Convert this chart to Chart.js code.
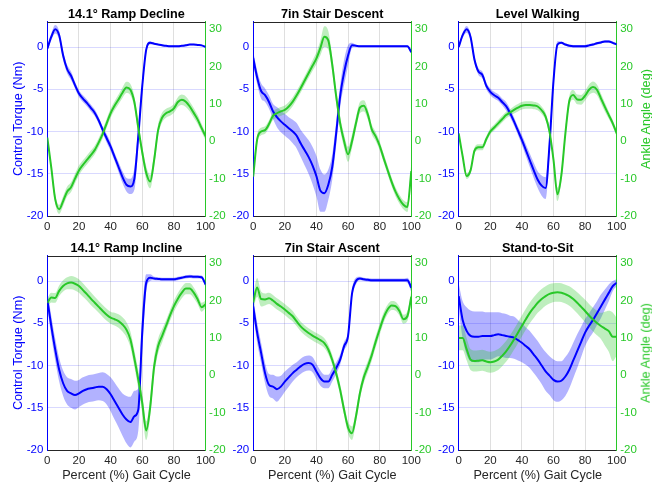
<!DOCTYPE html>
<html>
<head>
<meta charset="utf-8">
<script src="https://cdn.jsdelivr.net/npm/chart.js"></script>
<style>
  body { margin: 0; background: #fff; }
  #fig { position: relative; width: 652px; height: 482px; overflow: hidden;
         font-family: "Liberation Sans", Arial, sans-serif; }
  #fig canvas { position: absolute; left: 0; top: 0; }
  .ttl { position: absolute; font-weight: bold; font-size: 12.65px; line-height: 12.65px;
         white-space: nowrap; transform: translateX(-50%); color: #000; }
  .ylab2 { position: absolute; font-size: 12.65px; line-height: 12.65px; white-space: nowrap;
           color: rgb(40,200,40); transform: translate(-50%, -50%) rotate(-90deg); }
</style>
</head>
<body>
<div id="fig"></div>
<script>
// Eje x (porcentaje del ciclo) y marcas
const pct = [0, 2.5, 5, 7.5, 10, 12.5, 15, 17.5, 20, 22.5, 25, 27.5, 30, 32.5, 35, 37.5, 40,
  42.5, 45, 47.5, 50, 52.5, 55, 57.5, 60, 62.5, 65, 67.5, 70, 72.5, 75, 77.5, 80, 82.5, 85,
  87.5, 90, 92.5, 95, 97.5, 100];
const xTicks = [0, 20, 40, 60, 80, 100];
const torqueTicks = [-20, -15, -10, -5, 0];
const angleTicks = [-20, -10, 0, 10, 20, 30];
const titles = ["14.1° Ramp Decline", "7in Stair Descent", "Level Walking",
  "14.1° Ramp Incline", "7in Stair Ascent", "Stand-to-Sit"];

// 14.1° Ramp Decline
const rdTorque = [-0.2, 1.2, 2.1, 1.4, -1.0, -2.6, -3.4, -4.5, -5.5, -6.1, -6.6, -7.2, -7.8, -8.7, -9.8, -10.8, -11.8, -13.0, -14.2, -15.4, -16.3, -16.5, -15.6, -10.5, -4.6, -0.3, 0.5, 0.4, 0.3, 0.2, 0.15, 0.1, 0.1, 0.1, 0.15, 0.2, 0.3, 0.3, 0.25, 0.2, 0.0];
const rdTorqueSd = [0.3, 0.4, 0.5, 0.5, 0.5, 0.5, 0.5, 0.4, 0.4, 0.4, 0.4, 0.4, 0.4, 0.4, 0.4, 0.5, 0.5, 0.5, 0.6, 0.7, 0.8, 0.9, 1.3, 1.2, 0.8, 0.4, 0.2, 0.1, 0.1, 0.1, 0.1, 0.1, 0.1, 0.1, 0.1, 0.1, 0.1, 0.1, 0.1, 0.1, 0.1];
const rdAngle = [1.0, -7.0, -15.5, -18.2, -16.0, -13.5, -12.3, -10.0, -7.8, -6.3, -5.0, -3.7, -2.3, -0.3, 2.0, 4.8, 7.5, 9.5, 11.2, 13.0, 14.4, 13.8, 10.5, 3.5, -3.0, -8.5, -10.8, -5.0, 3.0, 6.3, 7.5, 8.0, 8.8, 10.5, 11.1, 10.6, 9.3, 7.6, 5.8, 3.5, 1.3];
const rdAngleSd = [0.8, 1.0, 1.2, 1.2, 1.3, 1.3, 1.3, 1.3, 1.3, 1.2, 1.2, 1.2, 1.2, 1.2, 1.2, 1.2, 1.2, 1.2, 1.3, 1.4, 1.5, 1.5, 1.5, 1.5, 1.5, 1.8, 1.8, 1.8, 1.5, 1.3, 1.2, 1.2, 1.2, 1.3, 1.4, 1.4, 1.3, 1.3, 1.2, 1.1, 1.0];

// 7in Stair Descent
const sdTorque = [-1.3, -3.6, -5.2, -5.7, -6.5, -7.6, -8.3, -8.8, -9.2, -9.6, -10.0, -10.5, -11.4, -12.2, -13.0, -14.0, -15.3, -17.0, -17.3, -16.3, -14.2, -10.2, -5.8, -3.0, -1.0, 0.2, 0.15, 0.1, 0.1, 0.1, 0.1, 0.1, 0.1, 0.1, 0.1, 0.1, 0.1, 0.1, 0.1, 0.1, -0.6];
const sdTorqueSd = [0.8, 0.8, 0.9, 0.8, 0.8, 0.9, 1.2, 1.3, 1.3, 1.3, 1.4, 1.5, 1.6, 1.8, 2.0, 2.2, 2.4, 2.5, 2.2, 1.8, 1.5, 1.4, 1.3, 1.5, 1.2, 0.3, 0.1, 0.1, 0.1, 0.1, 0.1, 0.1, 0.1, 0.1, 0.1, 0.1, 0.1, 0.1, 0.1, 0.1, 0.2];
const sdAngle = [-9.5, 0.5, 2.6, 3.0, 4.6, 6.8, 7.5, 8.0, 8.4, 9.3, 10.6, 12.3, 14.2, 16.2, 18.2, 20.2, 22.2, 25.0, 28.0, 27.0, 20.5, 12.0, 4.8, 0.0, -3.5, 0.0, 4.8, 9.0, 9.5, 7.2, 3.2, 1.3, -1.2, -4.5, -7.7, -10.8, -13.5, -15.5, -17.0, -17.6, -8.0];
const sdAngleSd = [2.0, 1.2, 1.0, 1.0, 1.0, 1.1, 1.2, 1.2, 1.2, 1.2, 1.2, 1.2, 1.2, 1.2, 1.3, 1.4, 1.6, 2.0, 2.8, 2.5, 2.0, 1.8, 1.8, 1.8, 2.0, 1.8, 1.6, 1.5, 1.5, 1.4, 1.3, 1.2, 1.2, 1.2, 1.2, 1.2, 1.2, 1.2, 1.2, 1.3, 2.0];

// Level Walking
const lwTorque = [0.0, 1.4, 2.1, 1.2, -1.5, -2.9, -3.3, -4.6, -5.3, -5.7, -6.0, -6.5, -7.0, -7.8, -8.8, -9.9, -11.0, -12.2, -13.4, -14.6, -15.7, -16.4, -16.7, -11.5, -4.0, 0.3, 0.5, 0.3, 0.15, 0.1, 0.1, 0.1, 0.1, 0.2, 0.3, 0.45, 0.55, 0.65, 0.65, 0.5, 0.3];
const lwTorqueSd = [0.2, 0.3, 0.4, 0.4, 0.4, 0.4, 0.4, 0.4, 0.4, 0.4, 0.4, 0.4, 0.5, 0.5, 0.5, 0.5, 0.6, 0.7, 0.8, 0.9, 1.0, 1.2, 1.3, 1.2, 0.8, 0.4, 0.15, 0.15, 0.15, 0.15, 0.15, 0.15, 0.15, 0.15, 0.15, 0.15, 0.15, 0.15, 0.15, 0.15, 0.15];
const lwAngle = [2.1, -4.0, -9.3, -7.8, -2.5, -1.6, -1.6, 0.6, 2.6, 3.7, 4.8, 5.9, 7.0, 7.7, 8.4, 9.0, 9.5, 9.7, 9.7, 9.6, 9.3, 8.3, 6.6, 2.5, -5.0, -14.2, -9.0, 2.0, 10.8, 12.4, 11.2, 11.1, 12.2, 13.8, 14.5, 13.8, 11.5, 9.2, 7.0, 4.8, 2.1];
const lwAngleSd = [0.6, 0.7, 0.8, 0.8, 0.8, 0.8, 0.8, 0.8, 0.8, 0.8, 0.9, 0.9, 0.9, 0.9, 1.0, 1.0, 1.0, 1.0, 1.0, 1.0, 1.0, 1.0, 1.0, 1.1, 1.2, 1.8, 1.5, 1.4, 1.3, 1.3, 1.3, 1.3, 1.3, 1.4, 1.5, 1.4, 1.3, 1.2, 1.0, 0.9, 0.8];

// 14.1° Ramp Incline
const riTorque = [-2.2, -5.3, -8.1, -10.5, -12.1, -13.0, -13.3, -13.5, -13.3, -13.0, -12.8, -12.7, -12.6, -12.5, -12.5, -12.8, -13.4, -14.2, -15.0, -15.8, -16.4, -16.7, -16.0, -15.2, -6.0, -0.2, 0.4, 0.3, 0.25, 0.2, 0.2, 0.2, 0.2, 0.3, 0.4, 0.5, 0.55, 0.5, 0.5, 0.45, -0.4];
const riTorqueSd = [1.0, 1.2, 1.3, 1.4, 1.5, 1.6, 1.7, 1.7, 1.6, 1.6, 1.6, 1.6, 1.6, 1.6, 1.7, 1.8, 2.0, 2.2, 2.3, 2.5, 2.8, 3.0, 3.0, 2.5, 2.5, 1.0, 0.4, 0.2, 0.2, 0.2, 0.2, 0.2, 0.2, 0.2, 0.2, 0.2, 0.2, 0.2, 0.2, 0.2, 0.3];
const riAngle = [19.4, 20.8, 20.7, 22.6, 23.9, 24.6, 24.8, 24.5, 23.9, 22.8, 21.7, 20.5, 19.4, 18.3, 17.2, 16.2, 15.4, 15.0, 14.5, 13.6, 12.2, 9.6, 4.5, -1.2, -7.5, -14.8, -8.5, 2.4, 7.8, 10.5, 13.2, 16.0, 18.5, 20.5, 22.1, 23.2, 23.2, 22.1, 20.3, 18.2, 19.0];
const riAngleSd = [1.2, 1.3, 1.3, 1.4, 1.5, 1.6, 1.8, 1.8, 1.8, 1.8, 1.7, 1.7, 1.6, 1.6, 1.6, 1.6, 1.6, 1.7, 1.8, 1.9, 2.0, 2.1, 2.2, 2.5, 2.8, 2.5, 2.5, 2.5, 2.0, 1.8, 1.5, 1.5, 1.5, 1.5, 1.5, 1.5, 1.5, 1.4, 1.3, 1.2, 1.0];

// 7in Stair Ascent
const saTorque = [-3.0, -6.1, -8.5, -10.9, -12.3, -12.5, -12.8, -12.5, -11.9, -11.4, -10.9, -10.5, -10.1, -9.8, -9.7, -9.9, -10.7, -11.5, -11.9, -11.9, -11.1, -10.3, -9.3, -7.7, -6.5, -1.5, 0.0, 0.3, 0.2, 0.15, 0.1, 0.1, 0.1, 0.1, 0.1, 0.1, 0.1, 0.1, 0.1, 0.1, -0.8];
const saTorqueSd = [1.0, 1.2, 1.2, 1.2, 1.3, 1.4, 1.5, 1.3, 1.2, 1.1, 1.0, 0.9, 0.9, 0.9, 0.9, 0.9, 0.9, 0.9, 0.8, 0.8, 0.8, 0.7, 0.6, 0.5, 0.5, 0.5, 0.4, 0.2, 0.2, 0.2, 0.2, 0.2, 0.2, 0.2, 0.2, 0.2, 0.2, 0.2, 0.2, 0.3, 0.5];
const saAngle = [19.5, 23.5, 20.4, 20.3, 20.6, 20.0, 19.1, 18.4, 17.6, 16.7, 15.8, 14.4, 13.1, 12.1, 11.3, 10.6, 10.0, 9.4, 8.6, 6.9, 4.1, 0.5, -3.9, -9.3, -14.0, -15.5, -11.0, -4.8, -0.5, 2.3, 5.4, 9.0, 12.3, 15.4, 17.6, 18.7, 18.5, 17.2, 15.0, 15.8, 21.0];
const saAngleSd = [2.0, 2.5, 2.0, 1.6, 1.5, 1.5, 1.5, 1.5, 1.5, 1.5, 1.4, 1.3, 1.3, 1.3, 1.3, 1.3, 1.3, 1.3, 1.3, 1.3, 1.3, 1.4, 1.5, 1.5, 1.6, 1.8, 1.6, 1.5, 1.5, 1.5, 1.5, 1.5, 1.5, 1.4, 1.3, 1.2, 1.2, 1.2, 1.2, 1.3, 1.5];

// Stand-to-Sit
const ssTorque = [-1.8, -4.6, -5.9, -6.5, -6.6, -6.6, -6.5, -6.5, -6.5, -6.4, -6.3, -6.4, -6.5, -6.6, -6.7, -7.0, -7.3, -7.7, -8.1, -8.7, -9.3, -10.0, -10.7, -11.2, -11.7, -11.9, -11.8, -11.3, -10.5, -9.4, -8.3, -7.2, -6.1, -5.3, -4.6, -3.8, -3.0, -2.2, -1.4, -0.6, -0.2];
const ssTorqueSd = [1.5, 2.2, 2.8, 3.0, 3.0, 3.0, 2.9, 2.8, 2.8, 2.7, 2.6, 2.6, 2.6, 2.5, 2.5, 2.4, 2.3, 2.2, 2.2, 2.2, 2.2, 2.2, 2.3, 2.3, 2.4, 2.4, 2.3, 2.3, 2.2, 2.1, 2.0, 1.8, 1.6, 1.5, 1.5, 1.4, 1.4, 1.2, 1.0, 0.6, 0.4];
const ssAngle = [10.0, 10.0, 7.0, 4.2, 3.8, 3.9, 4.0, 3.7, 3.5, 3.7, 4.2, 5.2, 6.4, 7.9, 9.6, 11.4, 13.2, 15.0, 16.7, 18.1, 19.4, 20.4, 21.2, 21.8, 22.1, 22.2, 22.1, 21.7, 21.2, 20.4, 19.4, 18.3, 17.2, 16.0, 14.9, 14.0, 13.2, 12.5, 11.8, 10.3, 10.3];
const ssAngleSd = [3.3, 3.3, 3.0, 2.8, 2.8, 2.8, 2.8, 2.8, 2.8, 2.8, 2.8, 2.8, 2.8, 2.8, 2.8, 2.8, 2.8, 2.8, 2.8, 2.8, 2.7, 2.7, 2.6, 2.6, 2.5, 2.5, 2.5, 2.5, 2.6, 2.7, 2.8, 2.9, 3.0, 3.1, 3.2, 3.3, 3.5, 4.5, 5.5, 6.5, 5.0];

// Colores
const BLUE = "rgb(0,0,255)";
const BLUE_BAND = "rgba(0,0,255,0.3)";
const GREEN = "rgb(40,200,40)";
const GREEN_BAND = "rgba(40,200,40,0.3)";
const AXIS = "#262626";

// Posición de cada área de gráfico (px)
const boxes = [
  { l: 47.3, r: 205.6, t: 21.7, b: 216, ylab: true, ylab2: false, xlab: false },
  { l: 253.2, r: 411.3, t: 21.7, b: 216, ylab: false, ylab2: false, xlab: false },
  { l: 458.7, r: 616.7, t: 21.7, b: 216, ylab: false, ylab2: true, xlab: false },
  { l: 47.3, r: 205.6, t: 255.7, b: 450, ylab: true, ylab2: false, xlab: true },
  { l: 253.2, r: 411.3, t: 255.7, b: 450, ylab: false, ylab2: false, xlab: true },
  { l: 458.7, r: 616.7, t: 255.7, b: 450, ylab: false, ylab2: true, xlab: true },
];

const series = [
  [rdTorque, rdTorqueSd, rdAngle, rdAngleSd],
  [sdTorque, sdTorqueSd, sdAngle, sdAngleSd],
  [lwTorque, lwTorqueSd, lwAngle, lwAngleSd],
  [riTorque, riTorqueSd, riAngle, riAngleSd],
  [saTorque, saTorqueSd, saAngle, saAngleSd],
  [ssTorque, ssTorqueSd, ssAngle, ssAngleSd],
];

Chart.defaults.font.family = '"Liberation Sans", Arial, sans-serif';
Chart.defaults.font.size = 11.5;

const pts = (ys) => ys.map((y, k) => ({ x: pct[k], y }));
const bound = (m, s, sign) => m.map((v, k) => ({ x: pct[k], y: v + sign * s[k] }));

// Borde superior de cada eje
const topLine = {
  id: "topLine",
  afterDraw(chart) {
    const { ctx, chartArea: a } = chart;
    const y = Math.round(a.top) + 0.5;
    ctx.save();
    ctx.strokeStyle = AXIS;
    ctx.lineWidth = 1;
    ctx.beginPath();
    ctx.moveTo(a.left, y);
    ctx.lineTo(a.right, y);
    ctx.stroke();
    ctx.restore();
  },
};

const fig = document.querySelector("#fig");

const bandSet = (data, color, axis, fill, order) => ({
  data, yAxisID: axis, fill, backgroundColor: color, borderWidth: 0,
  pointRadius: 0, cubicInterpolationMode: "monotone", order,
});
const lineSet = (data, color, axis, width, order) => ({
  data, yAxisID: axis, fill: false, borderColor: color, borderWidth: width,
  pointRadius: 0, cubicInterpolationMode: "monotone", order,
});

boxes.forEach((box, i) => {
  const [torque, torqueSd, angle, angleSd] = series[i];
  const lw = box.ylab ? 35.3 : 30;
  const rw = 30;
  const xh = box.xlab ? 32 : 20;

  const canvas = document.createElement("canvas");
  canvas.width = 652;
  canvas.height = 482;
  fig.appendChild(canvas);

  new Chart(canvas, {
    type: "line",
    data: {
      datasets: [
        bandSet(bound(torque, torqueSd, 1), BLUE_BAND, "y", "+1", 4),
        bandSet(bound(torque, torqueSd, -1), BLUE_BAND, "y", false, 4),
        bandSet(bound(angle, angleSd, 1), GREEN_BAND, "y2", "+1", 3),
        bandSet(bound(angle, angleSd, -1), GREEN_BAND, "y2", false, 3),
        lineSet(pts(torque), BLUE, "y", 2, 2),
        lineSet(pts(angle), GREEN, "y2", 2, 1),
      ],
    },
    options: {
      responsive: false,
      animation: false,
      devicePixelRatio: 1,
      events: [],
      layout: {
        padding: { left: box.l - lw, right: 652 - box.r - rw, top: box.t, bottom: 482 - box.b - xh },
      },
      plugins: { legend: { display: false }, tooltip: { enabled: false }, title: { display: false } },
      scales: {
        x: {
          type: "linear", min: 0, max: 100,
          afterBuildTicks: (s) => { s.ticks = xTicks.map((v) => ({ value: v })); },
          afterFit: (s) => { s.height = xh; },
          grid: { color: "rgba(38,38,38,0.15)", drawTicks: false },
          border: { color: AXIS },
          ticks: { color: AXIS, padding: 3.5, maxRotation: 0, autoSkip: false },
          title: { display: box.xlab, text: "Percent (%) Gait Cycle", color: AXIS,
                   font: { size: 12.65, lineHeight: 1 }, padding: 0 },
        },
        y: {
          position: "left", min: -20, max: 3,
          afterBuildTicks: (s) => { s.ticks = torqueTicks.map((v) => ({ value: v })); },
          afterFit: (s) => { s.width = lw; },
          grid: { color: "rgba(0,0,255,0.15)", drawTicks: false },
          border: { color: BLUE },
          ticks: { color: BLUE, padding: 4 },
          title: { display: box.ylab, text: "Control Torque (Nm)", color: BLUE,
                   font: { size: 12.65, lineHeight: 1 }, padding: 0 },
        },
        y2: {
          position: "right", min: -20, max: 32,
          afterBuildTicks: (s) => { s.ticks = angleTicks.map((v) => ({ value: v })); },
          afterFit: (s) => { s.width = rw; },
          grid: { drawOnChartArea: false, drawTicks: false },
          border: { color: GREEN },
          ticks: { color: GREEN, padding: 3.5 },
        },
      },
    },
    plugins: [topLine],
  });

  // Título del panel
  const t = document.createElement("div");
  t.className = "ttl";
  t.textContent = titles[i];
  t.style.left = (box.l + box.r) / 2 + "px";
  t.style.top = box.t - 14.1 + "px";
  fig.appendChild(t);

  // Etiqueta del eje derecho
  if (box.ylab2) {
    const a = document.createElement("div");
    a.className = "ylab2";
    a.textContent = "Ankle Angle (deg)";
    a.style.left = "646px";
    a.style.top = (box.t + box.b) / 2 + "px";
    fig.appendChild(a);
  }
});
</script>
</body>
</html>
